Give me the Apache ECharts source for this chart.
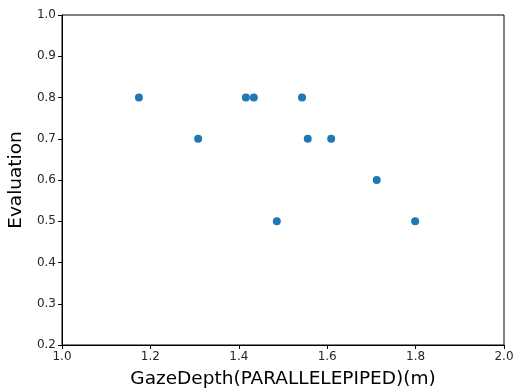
<!DOCTYPE html>
<html>
<head>
<meta charset="utf-8">
<script src="https://cdn.jsdelivr.net/npm/echarts@6/dist/echarts.min.js"></script>
<style>
  html, body { margin: 0; padding: 0; background: #fff; }
  #chart { width: 514px; height: 390px; }
</style>
</head>
<body>
<div id="chart"></div>
<script>
// values
const gazeDepth = [1.174, 1.308, 1.416, 1.434, 1.486, 1.543, 1.556, 1.609, 1.712, 1.799];
const evaluation = [0.8, 0.7, 0.8, 0.8, 0.5, 0.8, 0.7, 0.7, 0.6, 0.5];

const xTitle = 'GazeDepth(PARALLELEPIPED)(m)';
const yTitle = 'Evaluation';

const font = "'DejaVu Sans', sans-serif";
const tickLabel = { color: '#262626', fontSize: 12, fontFamily: font };
const axisLine = { show: true, lineStyle: { color: '#000', width: 1 } };
const axisTick = { show: true, inside: false, length: 4, lineStyle: { color: '#000' } };

const chart = echarts.init(document.getElementById('chart'), null, { renderer: 'canvas' });

chart.setOption({
  animation: false,
  backgroundColor: '#fff',
  grid: {
    left: 62, right: 10, top: 15, bottom: 45,
    outerBoundsMode: 'none',
    show: true, borderColor: '#000', borderWidth: 1
  },
  xAxis: {
    type: 'value',
    min: 1.0,
    max: 2.0,
    interval: 0.2,
    name: xTitle,
    nameLocation: 'middle',
    nameGap: 25,
    nameTextStyle: { fontSize: 18.5, color: '#000', fontFamily: font },
    axisLine: axisLine,
    axisTick: axisTick,
    splitLine: { show: false },
    axisLabel: { ...tickLabel, margin: 6, formatter: v => v.toFixed(1) }
  },
  yAxis: {
    type: 'value',
    min: 0.2,
    max: 1.0,
    interval: 0.1,
    name: yTitle,
    nameLocation: 'middle',
    nameGap: 32,
    nameTextStyle: { fontSize: 18.5, color: '#000', fontFamily: font },
    axisLine: axisLine,
    axisTick: axisTick,
    splitLine: { show: false },
    axisLabel: { ...tickLabel, margin: 6, formatter: v => v.toFixed(1) }
  },
  series: [{
    type: 'scatter',
    data: gazeDepth.map((x, i) => [x, evaluation[i]]),
    symbolSize: 8,
    itemStyle: { color: '#1f77b4', opacity: 1 }
  }]
});
</script>
</body>
</html>
